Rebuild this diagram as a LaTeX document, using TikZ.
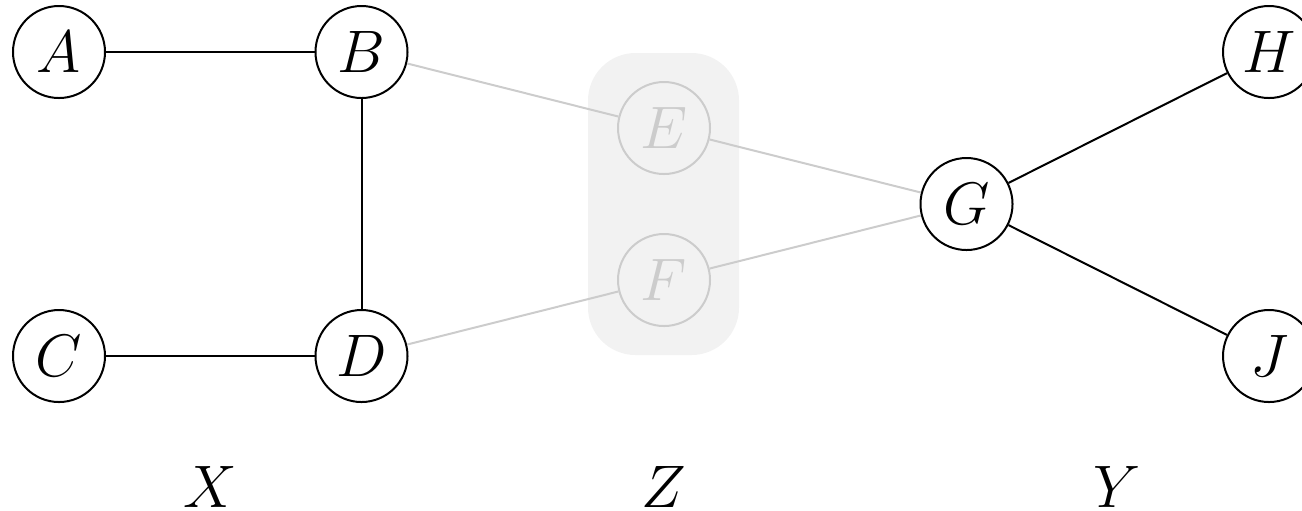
\documentclass[tikz,border=0pt]{standalone}
\definecolor{fadegray}{RGB}{204,204,204}
\definecolor{boxgray}{RGB}{242,242,242}
\begin{document}
\begin{tikzpicture}[x=0.2pt,y=-0.2pt,font=\fontsize{11.5}{13}\selectfont,
  vtx/.style={circle,draw,line width=0.4pt,minimum size=18.4pt,inner sep=0pt},
  faded/.style={vtx,draw=fadegray,text=fadegray},
  grouplabel/.style={inner sep=0pt},
  edge/.style={line width=0.4pt},
  fedge/.style={line width=0.4pt,draw=fadegray}]
\useasboundingbox (0,0) rectangle (1302,510);
\fill[boxgray, rounded corners=9.5pt] (588,53) rectangle (739,355);
\node[vtx] (A) at (59,52) {$A$};
\node[vtx] (B) at (361.5,52) {$B$};
\node[vtx] (C) at (59,356) {$C$};
\node[vtx] (D) at (361.5,356) {$D$};
\node[faded] (E) at (664,128) {$E$};
\node[faded] (F) at (664,280) {$F$};
\node[vtx] (G) at (966.5,204) {$G$};
\node[vtx] (H) at (1269,52) {$H$};
\node[vtx] (J) at (1269,356) {$J$};
\draw[edge] (A) -- (B);
\draw[edge] (C) -- (D);
\draw[edge] (B) -- (D);
\draw[edge] (G) -- (H);
\draw[edge] (G) -- (J);
\draw[fedge] (B) -- (E);
\draw[fedge] (D) -- (F);
\draw[fedge] (E) -- (G);
\draw[fedge] (F) -- (G);
\node[grouplabel] (X) at (210,487) {$X$};
\node[grouplabel] (Z) at (664,487) {$Z$};
\node[grouplabel] (Y) at (1117,487) {$Y$};
\end{tikzpicture}
\end{document}
